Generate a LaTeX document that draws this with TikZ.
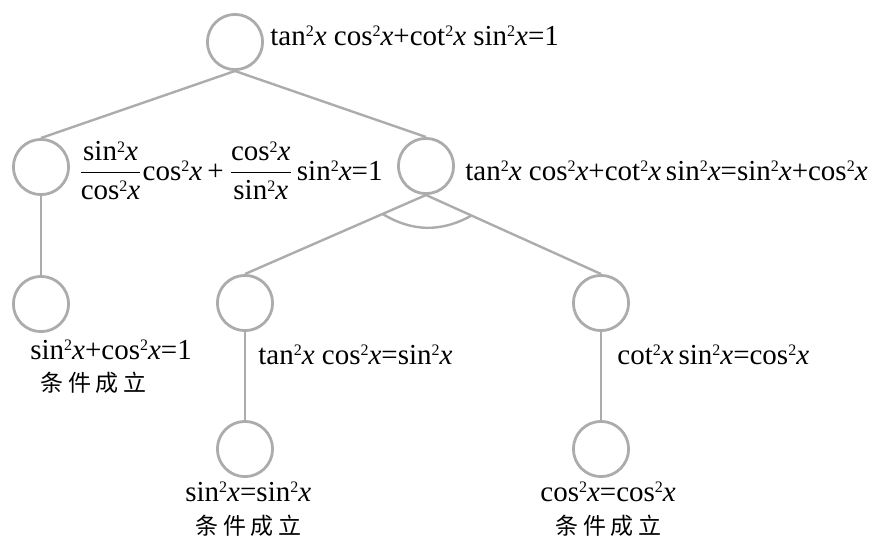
\documentclass[tikz,border=0pt]{standalone}
\usepackage{fontspec}
\setmainfont{Liberation Serif}
\newfontfamily\cjkfont{Noto Sans CJK SC}
\usetikzlibrary{calc}
\definecolor{linegray}{RGB}{172,172,172}
\newcommand\xv{\textit{x}}
\newcommand\tsq{\raisebox{0.62ex}{\fontsize{8}{8}\selectfont 2}}
\newcommand\holds{{\cjkfont 条\hspace{2.3pt}件\hspace{2.3pt}成\hspace{2.3pt}立}}
\newcommand\fr[2]{{\nulldelimiterspace=0pt\displaystyle\frac{\mbox{#1}}{\mbox{#2}}}}

\begin{document}
\begin{tikzpicture}[x=0.5pt,y=-0.5pt,
  state/.style={circle,draw=linegray,line width=1.4pt,minimum size=27.6pt,inner sep=0pt},
  link/.style={draw=linegray,line width=1.2pt},
  formula/.style={anchor=base west,inner sep=0pt,font=\fontsize{14.5}{17}\selectfont},
  verdict/.style={anchor=base west,inner sep=0pt,font=\fontsize{11.5}{13}\selectfont}]
\useasboundingbox (0,0) rectangle (872,538);

% decision-tree nodes
\node[state] (s1)  at (235,42)  {};
\node[state] (s2l) at (41,167)  {};
\node[state] (s2r) at (426,166) {};
\node[state] (s3l) at (41,304)  {};
\node[state] (s3m) at (245,303) {};
\node[state] (s3r) at (601,303) {};
\node[state] (s4m) at (245,449) {};
\node[state] (s4r) at (601,449) {};

% branches
\draw[link] (s1.south) -- (s2l.north);
\draw[link] (s1.south) -- (s2r.north);
\draw[link] (s2l.south) -- (s3l.north);
\draw[link] (s2r.south) -- (s3m.north);
\draw[link] (s2r.south) -- (s3r.north);
\draw[link] (s3m.south) -- (s4m.north);
\draw[link] (s3r.south) -- (s4r.north);

% arc joining the two branches that must both hold
\coordinate (a1) at ($(s2r.south)!0.24!(s3m.north)$);
\coordinate (a2) at ($(s2r.south)!0.26!(s3r.north)$);
\draw[link] (a1) to[bend right=30] (a2);

% formulas
\node[formula] (t1) at (270,45)
  {tan\tsq\xv{} cos\tsq\xv+cot\tsq\xv{} sin\tsq\xv=1};
\node[formula] (t2l) at (78,180)
  {$\fr{sin\tsq\xv}{cos\tsq\xv}\mbox{cos\tsq\xv\hspace{2.5pt}+\hspace{2.5pt}}\fr{cos\tsq\xv}{sin\tsq\xv}\mbox{\hspace{2pt}sin\tsq\xv=1}$};
\node[formula] (t2r) at (465,180)
  {tan\tsq\xv{} cos\tsq\xv+cot\tsq\xv\,sin\tsq\xv=sin\tsq\xv+cos\tsq\xv};
\node[formula] (t3l) at (30,359) {sin\tsq\xv+cos\tsq\xv=1};
\node[verdict] (v3l) at (40,391) {\holds};
\node[formula] (e3m) at (258,364) {tan\tsq\xv{} cos\tsq\xv=sin\tsq\xv};
\node[formula] (e3r) at (617,364) {cot\tsq\xv\,sin\tsq\xv=cos\tsq\xv};
\node[formula] (t4m) at (185,501) {sin\tsq\xv=sin\tsq\xv};
\node[verdict] (v4m) at (195,534) {\holds};
\node[formula] (t4r) at (540,501) {cos\tsq\xv=cos\tsq\xv};
\node[verdict] (v4r) at (555,534) {\holds};
\end{tikzpicture}
\end{document}
